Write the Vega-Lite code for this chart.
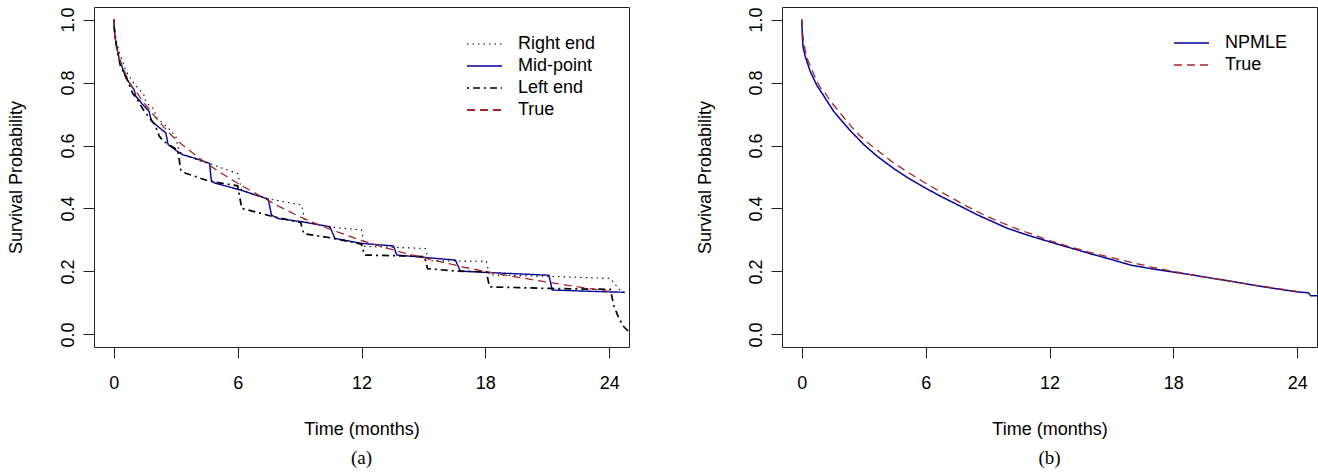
{
  "$schema": "https://vega.github.io/schema/vega-lite/v6.json",
  "background": "white",
  "padding": {"left": 6, "top": 6, "right": 0, "bottom": 0},
  "config": {
    "view": {"stroke": "#222222", "strokeWidth": 1},
    "font": "Liberation Sans",
    "axis": {
      "domain": false, "grid": false, "ticks": true, "tickSize": 11, "tickColor": "#222222", "tickWidth": 1,
      "labelFont": "Liberation Sans", "labelFontSize": 18, "labelColor": "black", "labelFlush": false, "labelOverlap": false,
      "titleFont": "Liberation Sans", "titleFontSize": 18, "titleFontWeight": "normal", "titleColor": "black"
    },
    "legend": {"labelFont": "Liberation Sans", "labelFontSize": 18, "labelColor": "black"}
  },
  "datasets": {
    "left": [
      {"series": "Mid-point", "t": 0, "s": 1.0}, {"series": "Mid-point", "t": 0.02, "s": 0.97}, {"series": "Mid-point", "t": 0.09, "s": 0.932},
      {"series": "Mid-point", "t": 0.25, "s": 0.879}, {"series": "Mid-point", "t": 0.58, "s": 0.815}, {"series": "Mid-point", "t": 0.98, "s": 0.778},
      {"series": "Mid-point", "t": 1.06, "s": 0.757}, {"series": "Mid-point", "t": 1.47, "s": 0.725}, {"series": "Mid-point", "t": 1.71, "s": 0.709},
      {"series": "Mid-point", "t": 1.82, "s": 0.678}, {"series": "Mid-point", "t": 2.2, "s": 0.657}, {"series": "Mid-point", "t": 2.52, "s": 0.64},
      {"series": "Mid-point", "t": 2.63, "s": 0.603}, {"series": "Mid-point", "t": 3.0, "s": 0.585}, {"series": "Mid-point", "t": 3.33, "s": 0.571},
      {"series": "Mid-point", "t": 4.0, "s": 0.558}, {"series": "Mid-point", "t": 4.64, "s": 0.543}, {"series": "Mid-point", "t": 4.72, "s": 0.49},
      {"series": "Mid-point", "t": 4.88, "s": 0.481}, {"series": "Mid-point", "t": 5.5, "s": 0.47}, {"series": "Mid-point", "t": 6.18, "s": 0.458},
      {"series": "Mid-point", "t": 6.8, "s": 0.444}, {"series": "Mid-point", "t": 7.48, "s": 0.43}, {"series": "Mid-point", "t": 7.64, "s": 0.379},
      {"series": "Mid-point", "t": 7.96, "s": 0.368}, {"series": "Mid-point", "t": 9.1, "s": 0.358}, {"series": "Mid-point", "t": 10.47, "s": 0.342},
      {"series": "Mid-point", "t": 10.71, "s": 0.305}, {"series": "Mid-point", "t": 12.01, "s": 0.289}, {"series": "Mid-point", "t": 13.55, "s": 0.281},
      {"series": "Mid-point", "t": 13.71, "s": 0.252}, {"series": "Mid-point", "t": 15.0, "s": 0.245}, {"series": "Mid-point", "t": 16.55, "s": 0.236},
      {"series": "Mid-point", "t": 16.79, "s": 0.201}, {"series": "Mid-point", "t": 18.0, "s": 0.197}, {"series": "Mid-point", "t": 21.08, "s": 0.188},
      {"series": "Mid-point", "t": 21.24, "s": 0.141}, {"series": "Mid-point", "t": 24.0, "s": 0.135}, {"series": "Mid-point", "t": 24.75, "s": 0.134},

      {"series": "Right end", "t": 0, "s": 1.0}, {"series": "Right end", "t": 0.05, "s": 0.965}, {"series": "Right end", "t": 0.15, "s": 0.925},
      {"series": "Right end", "t": 0.3, "s": 0.89}, {"series": "Right end", "t": 0.6, "s": 0.835}, {"series": "Right end", "t": 1.0, "s": 0.795},
      {"series": "Right end", "t": 1.45, "s": 0.762}, {"series": "Right end", "t": 1.55, "s": 0.738}, {"series": "Right end", "t": 1.95, "s": 0.715},
      {"series": "Right end", "t": 2.05, "s": 0.69}, {"series": "Right end", "t": 2.6, "s": 0.658}, {"series": "Right end", "t": 3.0, "s": 0.63},
      {"series": "Right end", "t": 3.15, "s": 0.582}, {"series": "Right end", "t": 3.4, "s": 0.57}, {"series": "Right end", "t": 4.0, "s": 0.556},
      {"series": "Right end", "t": 4.7, "s": 0.541}, {"series": "Right end", "t": 6.0, "s": 0.511}, {"series": "Right end", "t": 6.2, "s": 0.458},
      {"series": "Right end", "t": 7.5, "s": 0.43}, {"series": "Right end", "t": 7.8, "s": 0.427}, {"series": "Right end", "t": 9.1, "s": 0.411},
      {"series": "Right end", "t": 9.25, "s": 0.358}, {"series": "Right end", "t": 10.5, "s": 0.341}, {"series": "Right end", "t": 12.0, "s": 0.332},
      {"series": "Right end", "t": 12.15, "s": 0.28}, {"series": "Right end", "t": 15.1, "s": 0.273}, {"series": "Right end", "t": 15.25, "s": 0.234},
      {"series": "Right end", "t": 18.05, "s": 0.232}, {"series": "Right end", "t": 18.2, "s": 0.189}, {"series": "Right end", "t": 21.2, "s": 0.184},
      {"series": "Right end", "t": 24.05, "s": 0.178}, {"series": "Right end", "t": 24.6, "s": 0.134}, {"series": "Right end", "t": 24.75, "s": 0.133},

      {"series": "Left end", "t": 0, "s": 1.0}, {"series": "Left end", "t": 0.05, "s": 0.95}, {"series": "Left end", "t": 0.15, "s": 0.905},
      {"series": "Left end", "t": 0.33, "s": 0.85}, {"series": "Left end", "t": 0.58, "s": 0.822}, {"series": "Left end", "t": 0.9, "s": 0.767},
      {"series": "Left end", "t": 1.14, "s": 0.746}, {"series": "Left end", "t": 1.47, "s": 0.709}, {"series": "Left end", "t": 1.79, "s": 0.683},
      {"series": "Left end", "t": 2.0, "s": 0.665}, {"series": "Left end", "t": 2.2, "s": 0.63}, {"series": "Left end", "t": 2.4, "s": 0.614},
      {"series": "Left end", "t": 3.1, "s": 0.585}, {"series": "Left end", "t": 3.25, "s": 0.52}, {"series": "Left end", "t": 3.4, "s": 0.514},
      {"series": "Left end", "t": 4.6, "s": 0.487}, {"series": "Left end", "t": 6.0, "s": 0.472}, {"series": "Left end", "t": 6.2, "s": 0.4},
      {"series": "Left end", "t": 6.34, "s": 0.398}, {"series": "Left end", "t": 7.72, "s": 0.374}, {"series": "Left end", "t": 9.05, "s": 0.356},
      {"series": "Left end", "t": 9.2, "s": 0.32}, {"series": "Left end", "t": 10.47, "s": 0.307}, {"series": "Left end", "t": 12.0, "s": 0.287},
      {"series": "Left end", "t": 12.15, "s": 0.252}, {"series": "Left end", "t": 13.7, "s": 0.25}, {"series": "Left end", "t": 15.05, "s": 0.247},
      {"series": "Left end", "t": 15.2, "s": 0.209}, {"series": "Left end", "t": 16.6, "s": 0.201}, {"series": "Left end", "t": 18.05, "s": 0.199},
      {"series": "Left end", "t": 18.2, "s": 0.151}, {"series": "Left end", "t": 21.1, "s": 0.146}, {"series": "Left end", "t": 24.05, "s": 0.143},
      {"series": "Left end", "t": 24.24, "s": 0.088}, {"series": "Left end", "t": 24.48, "s": 0.05}, {"series": "Left end", "t": 24.7, "s": 0.025},
      {"series": "Left end", "t": 24.96, "s": 0.008}
    ],
    "truth": [
      {"t": 0, "s": 1.0}, {"t": 0.03, "s": 0.96}, {"t": 0.08, "s": 0.935}, {"t": 0.165, "s": 0.903}, {"t": 0.3, "s": 0.87},
      {"t": 0.45, "s": 0.847}, {"t": 0.7, "s": 0.808}, {"t": 0.9, "s": 0.784}, {"t": 1.15, "s": 0.765}, {"t": 1.4, "s": 0.74},
      {"t": 1.7, "s": 0.716}, {"t": 2.03, "s": 0.689}, {"t": 2.4, "s": 0.66}, {"t": 2.8, "s": 0.632}, {"t": 3.3, "s": 0.603},
      {"t": 3.81, "s": 0.577}, {"t": 4.4, "s": 0.547}, {"t": 5.1, "s": 0.517}, {"t": 5.8, "s": 0.488}, {"t": 6.5, "s": 0.461},
      {"t": 7.2, "s": 0.436}, {"t": 7.9, "s": 0.41}, {"t": 9.0, "s": 0.374}, {"t": 10.0, "s": 0.346}, {"t": 10.55, "s": 0.332},
      {"t": 11.0, "s": 0.322}, {"t": 12.0, "s": 0.298}, {"t": 13.0, "s": 0.278}, {"t": 14.0, "s": 0.26}, {"t": 15.0, "s": 0.244},
      {"t": 16.0, "s": 0.228}, {"t": 17.0, "s": 0.213}, {"t": 18.0, "s": 0.2}, {"t": 19.0, "s": 0.188}, {"t": 20.0, "s": 0.177},
      {"t": 21.0, "s": 0.166}, {"t": 22.0, "s": 0.156}, {"t": 23.0, "s": 0.146}, {"t": 24.0, "s": 0.137}
    ],
    "npmle": [
      {"series": "NPMLE", "t": 0, "s": 1.0}, {"series": "NPMLE", "t": 0.02, "s": 0.955}, {"series": "NPMLE", "t": 0.06, "s": 0.913},
      {"series": "NPMLE", "t": 0.17, "s": 0.882}, {"series": "NPMLE", "t": 0.41, "s": 0.835}, {"series": "NPMLE", "t": 0.73, "s": 0.791},
      {"series": "NPMLE", "t": 1.05, "s": 0.759}, {"series": "NPMLE", "t": 1.54, "s": 0.709}, {"series": "NPMLE", "t": 1.95, "s": 0.677},
      {"series": "NPMLE", "t": 2.35, "s": 0.647}, {"series": "NPMLE", "t": 3.0, "s": 0.603}, {"series": "NPMLE", "t": 3.65, "s": 0.566},
      {"series": "NPMLE", "t": 4.45, "s": 0.527}, {"series": "NPMLE", "t": 5.1, "s": 0.499}, {"series": "NPMLE", "t": 5.9, "s": 0.468},
      {"series": "NPMLE", "t": 6.72, "s": 0.439}, {"series": "NPMLE", "t": 7.36, "s": 0.418}, {"series": "NPMLE", "t": 8.5, "s": 0.38},
      {"series": "NPMLE", "t": 9.96, "s": 0.337}, {"series": "NPMLE", "t": 11.0, "s": 0.314}, {"series": "NPMLE", "t": 12.06, "s": 0.293},
      {"series": "NPMLE", "t": 13.0, "s": 0.275}, {"series": "NPMLE", "t": 14.0, "s": 0.256}, {"series": "NPMLE", "t": 15.0, "s": 0.238},
      {"series": "NPMLE", "t": 15.94, "s": 0.22}, {"series": "NPMLE", "t": 17.0, "s": 0.208}, {"series": "NPMLE", "t": 18.0, "s": 0.198},
      {"series": "NPMLE", "t": 19.0, "s": 0.188}, {"series": "NPMLE", "t": 20.0, "s": 0.177}, {"series": "NPMLE", "t": 20.8, "s": 0.169},
      {"series": "NPMLE", "t": 22.0, "s": 0.155}, {"series": "NPMLE", "t": 23.0, "s": 0.145}, {"series": "NPMLE", "t": 24.0, "s": 0.135},
      {"series": "NPMLE", "t": 24.55, "s": 0.132}, {"series": "NPMLE", "t": 24.65, "s": 0.123}, {"series": "NPMLE", "t": 24.96, "s": 0.123}
    ]
  },
  "spacing": 153,
  "bounds": "flush",
  "resolve": {
    "scale": {"color": "independent", "strokeDash": "independent", "strokeWidth": "independent", "x": "independent", "y": "independent"},
    "legend": {"color": "independent", "strokeDash": "independent"}
  },
  "hconcat": [
    {
      "width": 535,
      "height": 340,
      "title": {"text": "(a)", "orient": "bottom", "anchor": "middle", "frame": "group", "font": "Liberation Serif", "fontSize": 19, "fontWeight": "normal", "color": "black", "offset": 11},
      "layer": [
        {
          "data": {"name": "left"},
          "mark": {"type": "line", "clip": true},
          "encoding": {
            "x": {"field": "t", "type": "quantitative", "scale": {"domain": [-0.96, 24.96], "nice": false, "zero": false},
              "axis": {"values": [0, 6, 12, 18, 24], "title": "Time (months)", "labelBaseline": "middle", "labelPadding": 25, "titleX": 267.5, "titleY": 82, "titleBaseline": "middle", "titleAlign": "center"}},
            "y": {"field": "s", "type": "quantitative", "scale": {"domain": [-0.04, 1.04], "nice": false, "zero": false},
              "axis": {"values": [0, 0.2, 0.4, 0.6, 0.8, 1.0], "format": ".1f", "title": "Survival Probability", "labelAngle": -90, "labelAlign": "center", "labelBaseline": "alphabetic", "labelPadding": 10, "titleX": -78, "titleY": 170, "titleAngle": -90, "titleBaseline": "middle", "titleAlign": "center"}},
            "color": {"field": "series", "type": "nominal",
              "scale": {"domain": ["Right end", "Mid-point", "Left end", "True"], "range": ["black", "#00009c", "black", "#a82424"]},
              "legend": {"title": null, "orient": "none", "legendX": 372, "legendY": 26, "symbolType": "stroke", "symbolSize": 1225, "symbolStrokeWidth": 1.1, "clipHeight": 22, "rowPadding": 0, "labelOffset": 15, "padding": 0}},
            "strokeDash": {"field": "series", "type": "nominal",
              "scale": {"domain": ["Right end", "Mid-point", "Left end", "True"], "range": [[1.5, 4], [1, 0], [2, 4, 7, 4], [8, 5]]},
              "legend": {"title": null, "orient": "none", "legendX": 372, "legendY": 26, "symbolType": "stroke", "symbolSize": 1225, "symbolStrokeWidth": 1.1, "clipHeight": 22, "rowPadding": 0, "labelOffset": 15, "padding": 0}},
            "strokeWidth": {"field": "series", "type": "ordinal",
              "scale": {"domain": ["Right end", "Mid-point", "Left end", "True"], "range": [1.1, 2, 1.4, 1.3]}, "legend": null}
          }
        },
        {
          "data": {"name": "truth"},
          "mark": {"type": "line", "clip": true, "strokeWidth": 1.3},
          "encoding": {
            "x": {"field": "t", "type": "quantitative"},
            "y": {"field": "s", "type": "quantitative"},
            "color": {"datum": "True"},
            "strokeDash": {"datum": "True"}
          }
        }
      ]
    },
    {
      "width": 535,
      "height": 340,
      "title": {"text": "(b)", "orient": "bottom", "anchor": "middle", "frame": "group", "font": "Liberation Serif", "fontSize": 19, "fontWeight": "normal", "color": "black", "offset": 11},
      "layer": [
        {
          "data": {"name": "npmle"},
          "mark": {"type": "line", "clip": true},
          "encoding": {
            "x": {"field": "t", "type": "quantitative", "scale": {"domain": [-0.96, 24.96], "nice": false, "zero": false},
              "axis": {"values": [0, 6, 12, 18, 24], "title": "Time (months)", "labelBaseline": "middle", "labelPadding": 25, "titleX": 267.5, "titleY": 82, "titleBaseline": "middle", "titleAlign": "center"}},
            "y": {"field": "s", "type": "quantitative", "scale": {"domain": [-0.04, 1.04], "nice": false, "zero": false},
              "axis": {"values": [0, 0.2, 0.4, 0.6, 0.8, 1.0], "format": ".1f", "title": "Survival Probability", "labelAngle": -90, "labelAlign": "center", "labelBaseline": "alphabetic", "labelPadding": 10, "titleX": -77, "titleY": 170, "titleAngle": -90, "titleBaseline": "middle", "titleAlign": "center"}},
            "color": {"field": "series", "type": "nominal",
              "scale": {"domain": ["NPMLE", "True"], "range": ["#00009c", "#a82424"]},
              "legend": {"title": null, "orient": "none", "legendX": 391, "legendY": 25, "symbolType": "stroke", "symbolSize": 1225, "symbolStrokeWidth": 1.1, "clipHeight": 22, "rowPadding": 0, "labelOffset": 15, "padding": 0}},
            "strokeDash": {"field": "series", "type": "nominal",
              "scale": {"domain": ["NPMLE", "True"], "range": [[1, 0], [8, 5]]},
              "legend": {"title": null, "orient": "none", "legendX": 391, "legendY": 25, "symbolType": "stroke", "symbolSize": 1225, "symbolStrokeWidth": 1.1, "clipHeight": 22, "rowPadding": 0, "labelOffset": 15, "padding": 0}},
            "strokeWidth": {"field": "series", "type": "ordinal",
              "scale": {"domain": ["NPMLE", "True"], "range": [1.5, 1.3]}, "legend": null}
          }
        },
        {
          "data": {"name": "truth"},
          "mark": {"type": "line", "clip": true, "strokeWidth": 1.3},
          "encoding": {
            "x": {"field": "t", "type": "quantitative"},
            "y": {"field": "s", "type": "quantitative"},
            "color": {"datum": "True"},
            "strokeDash": {"datum": "True"}
          }
        }
      ]
    }
  ]
}
